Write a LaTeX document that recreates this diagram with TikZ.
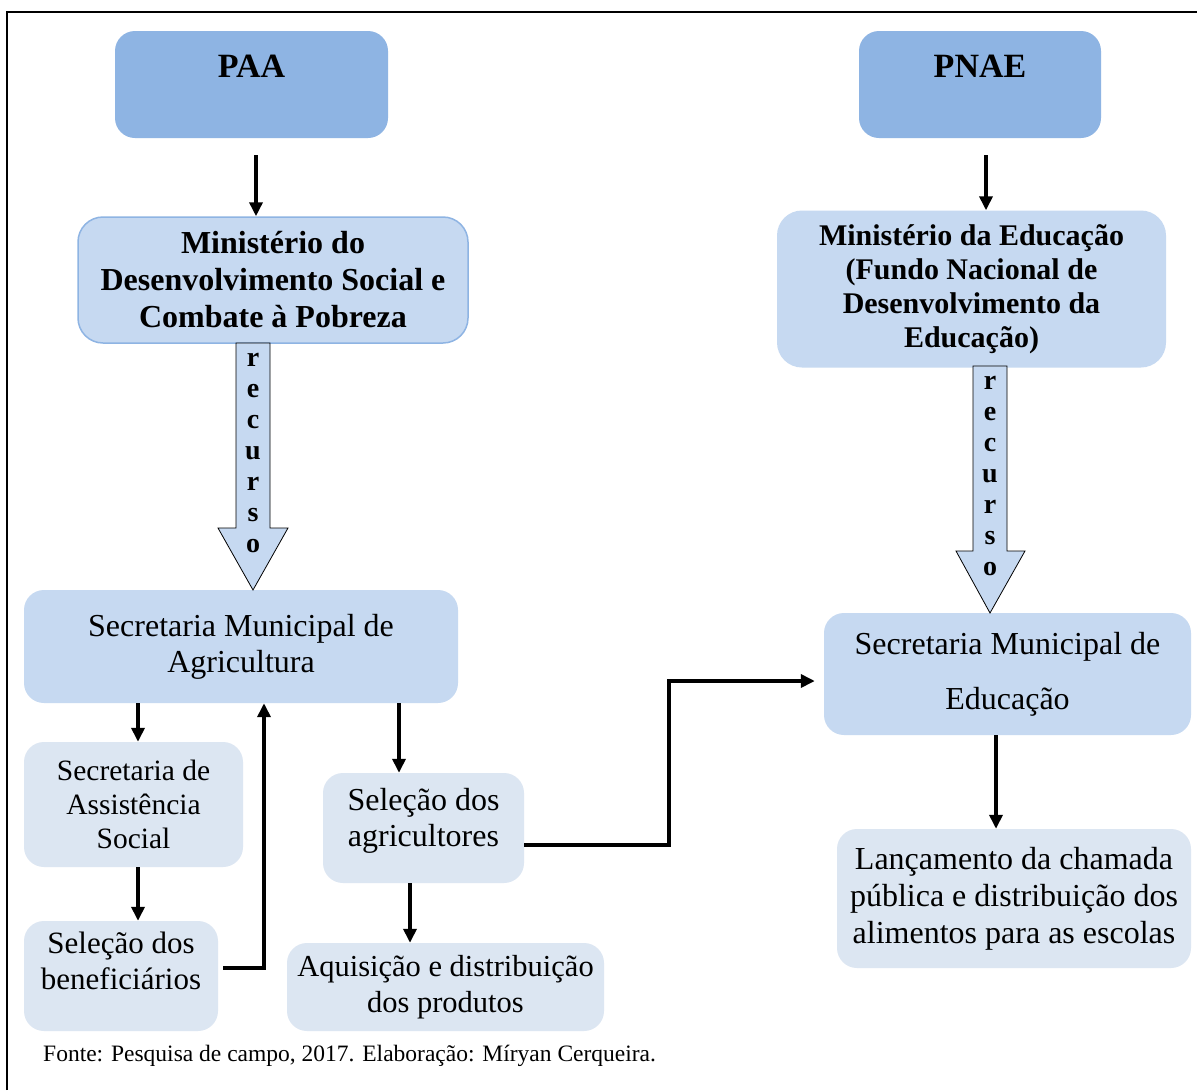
\documentclass[tikz,border=0pt]{standalone}
\usepackage{fontspec}
\setmainfont{Liberation Serif}
\usetikzlibrary{arrows.meta}
\definecolor{darkb}{HTML}{8EB4E3}
\definecolor{midb}{HTML}{C6D9F1}
\definecolor{lightb}{HTML}{DCE6F2}
\tikzset{
  box/.style={rectangle, rounded corners=20pt, align=center, inner sep=0pt,
    font=\fontsize{32}{36}\selectfont},
  topbox/.style={box, fill=darkb, font=\fontsize{34}{37}\selectfont\bfseries},
  minbox/.style={box, fill=midb, font=\fontsize{32}{37}\selectfont\bfseries},
  midbox/.style={box, fill=midb},
  lightbox/.style={box, fill=lightb},
  conn/.style={line width=3.5pt, -{Triangle[width=13pt,length=14pt]}},
  fatarrow/.style={fill=midb, draw=black, line width=0.8pt},
  letters/.style={align=center, inner sep=0pt, font=\fontsize{28}{31}\selectfont\bfseries}
}
\begin{document}
\begin{tikzpicture}[x=1pt,y=-1pt]
\useasboundingbox (0,0) rectangle (1197,1090);
\fill[white] (0,0) rectangle (1197,1090);
\draw[line width=2pt] (7,1090) -- (7,12) -- (1197,12);

% top boxes
\node[topbox, minimum width=273pt, minimum height=107pt] (paa) at (251.5,84.5) {PAA\\\mbox{}};
\node[topbox, minimum width=242pt, minimum height=107pt] (pnae) at (980,84.5) {PNAE\\\mbox{}};

% ministries
\node[minbox, draw=darkb, line width=1.5pt, rounded corners=25pt, minimum width=390pt, minimum height=126pt] (mds) at (273,280)
  {Ministério do\\Desenvolvimento Social e\\Combate à Pobreza};
\node[minbox, rounded corners=25pt, minimum width=389pt, minimum height=157pt, font=\fontsize{30}{34}\selectfont\bfseries] (med) at (971.5,289)
  {Ministério da Educação\\(Fundo Nacional de\\Desenvolvimento da\\Educação)};

% secretarias
\node[midbox, minimum width=434pt, minimum height=113pt] (sma) at (241,646.5)
  {Secretaria Municipal de\\Agricultura};
\node[midbox, minimum width=367pt, minimum height=122pt, font=\fontsize{32}{55}\selectfont] (sme) at (1007.5,674)
  {Secretaria Municipal de\\Educação};

% lower boxes
\node[lightbox, minimum width=219pt, minimum height=125pt, font=\fontsize{29.5}{34}\selectfont] (sas) at (133.5,804.5)
  {Secretaria de\\Assistência\\Social};
\node[lightbox, minimum width=194pt, minimum height=110pt, font=\fontsize{31}{36}\selectfont] (sb) at (121,976)
  {Seleção dos\\beneficiários\rule[-31pt]{0pt}{0pt}};
\node[lightbox, minimum width=201pt, minimum height=110pt] (sa) at (423.5,828)
  {Seleção dos\\agricultores\rule[-22pt]{0pt}{0pt}};
\node[lightbox, minimum width=317pt, minimum height=88pt, font=\fontsize{30.5}{36}\selectfont] (aq) at (445.5,987)
  {Aquisição e distribuição\\dos produtos};
\node[lightbox, minimum width=354pt, minimum height=139pt, font=\fontsize{32}{37}\selectfont] (lan) at (1014,898.5)
  {Lançamento da chamada\\pública e distribuição dos\\alimentos para as escolas};

% fat "recurso" arrows
\draw[fatarrow] (236,343) -- (270,343) -- (270,528) -- (288,528) -- (253,590)
  -- (218,528) -- (236,528) -- cycle;
\node[letters] (rec1) at (253,453) {r\\e\\c\\u\\r\\s\\o};
\draw[fatarrow] (973,366) -- (1007,366) -- (1007,551) -- (1025,551) -- (990,613)
  -- (956,551) -- (973,551) -- cycle;
\node[letters] (rec2) at (990,476) {r\\e\\c\\u\\r\\s\\o};

% connectors
\draw[conn] ([xshift=4.5pt,yshift=-17pt]paa.south) -- ([xshift=4.5pt]paa.south |- mds.north);
\draw[conn] ([xshift=6pt,yshift=-17pt]pnae.south) -- ([xshift=6pt]pnae.south |- med.north);
\draw[conn] ([xshift=4.5pt]sas.north |- sma.south) -- ([xshift=4.5pt]sas.north);
\draw[conn] ([xshift=4.5pt]sas.south) -- ([xshift=4.5pt]sas.south |- sb.north);
\draw[conn] ([xshift=5pt,yshift=8pt]sb.east) -| ([xshift=23pt]sma.south);
\draw[conn] ([xshift=-24.5pt]sa.north |- sma.south) -- ([xshift=-24.5pt]sa.north);
\draw[conn] ([xshift=-13.5pt]sa.south) -- ([xshift=-13.5pt]sa.south |- aq.north);
\draw[conn] ([yshift=-17pt]sa.east) -- ++(145,0) |- ([xshift=-9pt,yshift=-7pt]sme.west);
\draw[conn] ([xshift=-11.5pt]sme.south) -- ([xshift=-11.5pt]sme.south |- lan.north);

\node[anchor=west, inner sep=0pt, font=\fontsize{23.5}{27}\selectfont] (fonte) at (43,1056)
  {Fonte: Pesquisa de campo, 2017. Elaboração: Míryan Cerqueira.};
\end{tikzpicture}
\end{document}
